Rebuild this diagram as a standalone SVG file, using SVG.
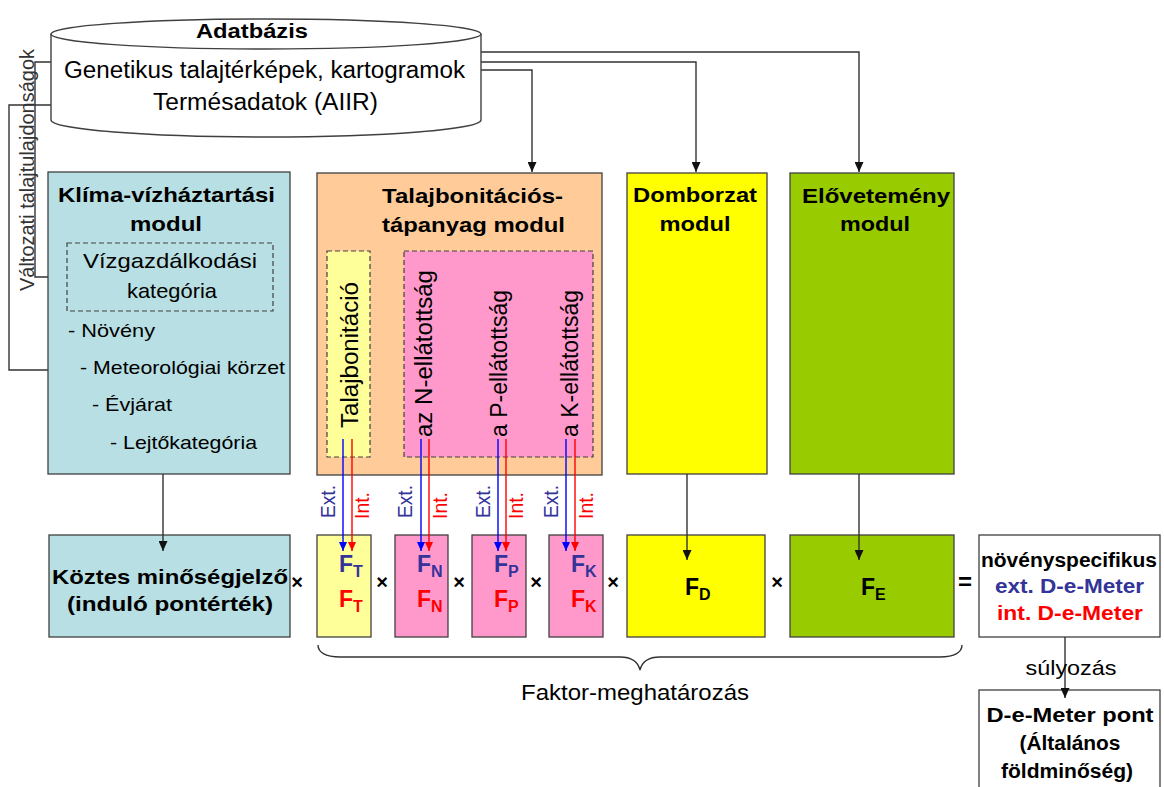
<svg xmlns="http://www.w3.org/2000/svg" width="1164" height="787" viewBox="0 0 1164 787">
<defs>
<style>
text{font-family:"Liberation Sans",Arial,sans-serif;fill:#000}
.b{font-weight:bold}
.box{stroke:#404040;stroke-width:1.3}
.dash{stroke:#404040;stroke-width:1.2;stroke-dasharray:5,3}
.ln{fill:none;stroke:#333;stroke-width:1.4}
.bl{fill:none;stroke:#0000ff;stroke-width:1.4}
.rl{fill:none;stroke:#ff0000;stroke-width:1.4}
.t22{font-size:21px}
.tl{font-size:19px}
.vt{font-size:23px}
.F{font-size:23px;font-weight:bold}
.sub{font-size:16px}
.blue{fill:#333399}
.red{fill:#ff0000}
.ei{font-size:19.5px}
.x{font-size:20px;font-weight:bold}
</style>
<marker id="ah" markerUnits="userSpaceOnUse" markerWidth="10" markerHeight="9" refX="10" refY="4.5" orient="auto"><path d="M0,0 L10,4.5 L0,9 Z" fill="#111"/></marker>
<marker id="ahb" markerUnits="userSpaceOnUse" markerWidth="9" markerHeight="8" refX="9" refY="4" orient="auto"><path d="M0,0 L9,4 L0,8 Z" fill="#0000ff"/></marker>
<marker id="ahr" markerUnits="userSpaceOnUse" markerWidth="9" markerHeight="8" refX="9" refY="4" orient="auto"><path d="M0,0 L9,4 L0,8 Z" fill="#ff0000"/></marker>
</defs>
<rect width="1164" height="787" fill="#fff"/>

<g id="connectors">
<path class="ln" d="M481,70 H532 V172" marker-end="url(#ah)"/>
<path class="ln" d="M481,62 H696 V172" marker-end="url(#ah)"/>
<path class="ln" d="M481,52 H859 V172" marker-end="url(#ah)"/>
<path class="ln" d="M51,62 H35 V277 H67" marker-end="url(#ah)"/>
<path class="ln" d="M51,105 H9 V370 H60" marker-end="url(#ah)"/>
</g>

<g id="adatbazis">
<path d="M51,34 V120 A215,17 0 0 0 481,120 V34" fill="#fff" stroke="#404040" stroke-width="1.4"/>
<ellipse cx="266" cy="34" rx="215" ry="15" fill="#fff" stroke="#404040" stroke-width="1.4"/>
<text class="b" x="252" y="38" font-size="20" text-anchor="middle" textLength="112" lengthAdjust="spacingAndGlyphs">Adatbázis</text>
<text x="264.5" y="78" font-size="23" text-anchor="middle" textLength="401" lengthAdjust="spacingAndGlyphs">Genetikus talajtérképek, kartogramok</text>
<text x="265.5" y="110" font-size="23" text-anchor="middle" textLength="225" lengthAdjust="spacingAndGlyphs">Termésadatok (AIIR)</text>
</g>

<g id="side-label">
<text transform="translate(34,291) rotate(-90)" font-size="20" style="fill:#333" textLength="242" lengthAdjust="spacingAndGlyphs">Változati talajtulajdonságok</text>
</g>

<g id="klima">
<rect class="box" x="48" y="172" width="242" height="302" fill="#b8dfe3"/>
<text class="b t22" x="166.5" y="202" text-anchor="middle" textLength="217" lengthAdjust="spacingAndGlyphs">Klíma-vízháztartási</text>
<text class="b t22" x="166" y="231" text-anchor="middle" textLength="72" lengthAdjust="spacingAndGlyphs">modul</text>
<rect class="dash" x="67" y="243" width="206" height="68" fill="none"/>
<text class="t22" x="170" y="268" text-anchor="middle" textLength="174" lengthAdjust="spacingAndGlyphs">Vízgazdálkodási</text>
<text class="t22" x="172" y="298" text-anchor="middle" textLength="90" lengthAdjust="spacingAndGlyphs">kategória</text>
<text class="tl" x="68" y="337" textLength="87" lengthAdjust="spacingAndGlyphs">- Növény</text>
<text class="tl" x="80" y="374" textLength="205" lengthAdjust="spacingAndGlyphs">- Meteorológiai körzet</text>
<text class="tl" x="92" y="411" textLength="80" lengthAdjust="spacingAndGlyphs">- Évjárat</text>
<text class="tl" x="110" y="449" textLength="147" lengthAdjust="spacingAndGlyphs">- Lejtőkategória</text>
</g>

<g id="talajbonitacio">
<rect class="box" x="317" y="173" width="285" height="302" fill="#ffcc99"/>
<text class="b t22" x="472.5" y="203" text-anchor="middle" textLength="181" lengthAdjust="spacingAndGlyphs">Talajbonitációs-</text>
<text class="b t22" x="473.5" y="232" text-anchor="middle" textLength="183" lengthAdjust="spacingAndGlyphs">tápanyag modul</text>
<rect class="dash" x="327" y="251" width="43" height="206" fill="#ffff99"/>
<rect class="dash" x="404" y="251" width="189" height="206" fill="#ff99cc"/>
<text class="vt" transform="translate(358,428) rotate(-90)" textLength="146" lengthAdjust="spacingAndGlyphs">Talajbonitáció</text>
<text class="vt" transform="translate(432,437) rotate(-90)" textLength="167" lengthAdjust="spacingAndGlyphs">az N-ellátottság</text>
<text class="vt" transform="translate(507,437) rotate(-90)">a P-ellátottság</text>
<text class="vt" transform="translate(578,437) rotate(-90)">a K-ellátottság</text>
</g>

<g id="domborzat">
<rect class="box" x="627" y="173" width="140" height="301" fill="#ffff00"/>
<text class="b t22" x="695" y="202" text-anchor="middle" textLength="124" lengthAdjust="spacingAndGlyphs">Domborzat</text>
<text class="b t22" x="695" y="231" text-anchor="middle" textLength="71" lengthAdjust="spacingAndGlyphs">modul</text>
</g>

<g id="elovetemeny">
<rect class="box" x="790" y="173" width="164" height="301" fill="#99cc00"/>
<text class="b t22" x="876" y="203" text-anchor="middle" textLength="148" lengthAdjust="spacingAndGlyphs">Elővetemény</text>
<text class="b t22" x="875" y="231" text-anchor="middle" textLength="70" lengthAdjust="spacingAndGlyphs">modul</text>
</g>

<g id="koztes">
<rect class="box" x="49" y="535" width="241" height="102" fill="#b8dfe3"/>
<text class="b t22" x="170" y="584" text-anchor="middle" textLength="236" lengthAdjust="spacingAndGlyphs">Köztes minőségjelző</text>
<text class="b t22" x="170" y="611" text-anchor="middle" textLength="206" lengthAdjust="spacingAndGlyphs">(induló pontérték)</text>
</g>

<g id="FT">
<rect class="box" x="317" y="535" width="54" height="102" fill="#ffff99"/>
<text class="F blue" x="339" y="572">F<tspan class="sub" dy="5">T</tspan></text>
<text class="F red" x="339" y="607">F<tspan class="sub" dy="5">T</tspan></text>
</g>
<g id="FN">
<rect class="box" x="395" y="535" width="53" height="102" fill="#ff99cc"/>
<text class="F blue" x="417" y="572">F<tspan class="sub" dy="5">N</tspan></text>
<text class="F red" x="417" y="607">F<tspan class="sub" dy="5">N</tspan></text>
</g>
<g id="FP">
<rect class="box" x="472" y="535" width="54" height="102" fill="#ff99cc"/>
<text class="F blue" x="494" y="572">F<tspan class="sub" dy="5">P</tspan></text>
<text class="F red" x="494" y="607">F<tspan class="sub" dy="5">P</tspan></text>
</g>
<g id="FK">
<rect class="box" x="549" y="535" width="54" height="102" fill="#ff99cc"/>
<text class="F blue" x="571" y="572">F<tspan class="sub" dy="5">K</tspan></text>
<text class="F red" x="571" y="607">F<tspan class="sub" dy="5">K</tspan></text>
</g>
<g id="FD">
<rect class="box" x="627" y="535" width="138" height="102" fill="#ffff00"/>
<text class="F" x="685" y="595">F<tspan class="sub" dy="5">D</tspan></text>
</g>
<g id="FE">
<rect class="box" x="790" y="535" width="164" height="102" fill="#99cc00"/>
<text class="F" x="861" y="595">F<tspan class="sub" dy="5">E</tspan></text>
</g>

<g id="operators">
<text class="x" x="297" y="589" text-anchor="middle">×</text>
<text class="x" x="382" y="589" text-anchor="middle">×</text>
<text class="x" x="459" y="589" text-anchor="middle">×</text>
<text class="x" x="536" y="589" text-anchor="middle">×</text>
<text class="x" x="613" y="589" text-anchor="middle">×</text>
<text class="x" x="777" y="589" text-anchor="middle">×</text>
<text class="b" x="965" y="590" font-size="24" text-anchor="middle">=</text>
</g>

<g id="novenyspecifikus">
<rect class="box" x="979" y="535" width="181" height="102" fill="#fff"/>
<text class="b" x="1069" y="567" font-size="20" text-anchor="middle" textLength="176" lengthAdjust="spacingAndGlyphs">növényspecifikus</text>
<text class="b blue" x="1069.5" y="593" font-size="20" text-anchor="middle" textLength="149" lengthAdjust="spacingAndGlyphs">ext. D-e-Meter</text>
<text class="b red" x="1070" y="620" font-size="20" text-anchor="middle" textLength="146" lengthAdjust="spacingAndGlyphs">int. D-e-Meter</text>
</g>

<g id="demeter-pont">
<rect class="box" x="979" y="690" width="181" height="120" fill="#fff"/>
<text class="b" x="1070" y="722" font-size="20" text-anchor="middle" textLength="167" lengthAdjust="spacingAndGlyphs">D-e-Meter pont</text>
<text class="b" x="1070" y="750" font-size="20" text-anchor="middle" textLength="101" lengthAdjust="spacingAndGlyphs">(Általános</text>
<text class="b" x="1067" y="778" font-size="20" text-anchor="middle" textLength="132" lengthAdjust="spacingAndGlyphs">földminőség)</text>
</g>

<g id="connectors-lower">
<path class="ln" d="M163,474 V551" marker-end="url(#ah)"/>
<path class="ln" d="M687,474 V560" marker-end="url(#ah)"/>
<path class="ln" d="M859,474 V560" marker-end="url(#ah)"/>
<path class="ln" d="M1065,637 V698" marker-end="url(#ah)"/>
<path class="bl" d="M343,439 V551" marker-end="url(#ahb)"/>
<path class="rl" d="M352,439 V551" marker-end="url(#ahr)"/>
<path class="bl" d="M421,439 V551" marker-end="url(#ahb)"/>
<path class="rl" d="M429,439 V551" marker-end="url(#ahr)"/>
<path class="bl" d="M498,439 V551" marker-end="url(#ahb)"/>
<path class="rl" d="M506,439 V551" marker-end="url(#ahr)"/>
<path class="bl" d="M566,439 V551" marker-end="url(#ahb)"/>
<path class="rl" d="M575,439 V551" marker-end="url(#ahr)"/>
</g>

<g id="ext-int-labels">
<text class="ei blue" transform="translate(335,518) rotate(-90)" textLength="33" lengthAdjust="spacingAndGlyphs">Ext.</text>
<text class="ei red" transform="translate(369,519) rotate(-90)" textLength="27" lengthAdjust="spacingAndGlyphs">Int.</text>
<text class="ei blue" transform="translate(412,518) rotate(-90)" textLength="33" lengthAdjust="spacingAndGlyphs">Ext.</text>
<text class="ei red" transform="translate(447,519) rotate(-90)" textLength="27" lengthAdjust="spacingAndGlyphs">Int.</text>
<text class="ei blue" transform="translate(490,518) rotate(-90)" textLength="33" lengthAdjust="spacingAndGlyphs">Ext.</text>
<text class="ei red" transform="translate(523,519) rotate(-90)" textLength="27" lengthAdjust="spacingAndGlyphs">Int.</text>
<text class="ei blue" transform="translate(558,518) rotate(-90)" textLength="33" lengthAdjust="spacingAndGlyphs">Ext.</text>
<text class="ei red" transform="translate(593,519) rotate(-90)" textLength="27" lengthAdjust="spacingAndGlyphs">Int.</text>
</g>

<g id="brace">
<path class="ln" d="M318,645 C318,652 325,657 340,657 H620 C632,657 638,662 640,670 C642,662 648,657 660,657 H940 C955,657 962,652 962,645"/>
<text x="635" y="700" font-size="22" text-anchor="middle" textLength="228" lengthAdjust="spacingAndGlyphs">Faktor-meghatározás</text>
</g>

<g id="sulyozas">
<text x="1071" y="675" font-size="21" text-anchor="middle" textLength="91" lengthAdjust="spacingAndGlyphs">súlyozás</text>
</g>
</svg>
